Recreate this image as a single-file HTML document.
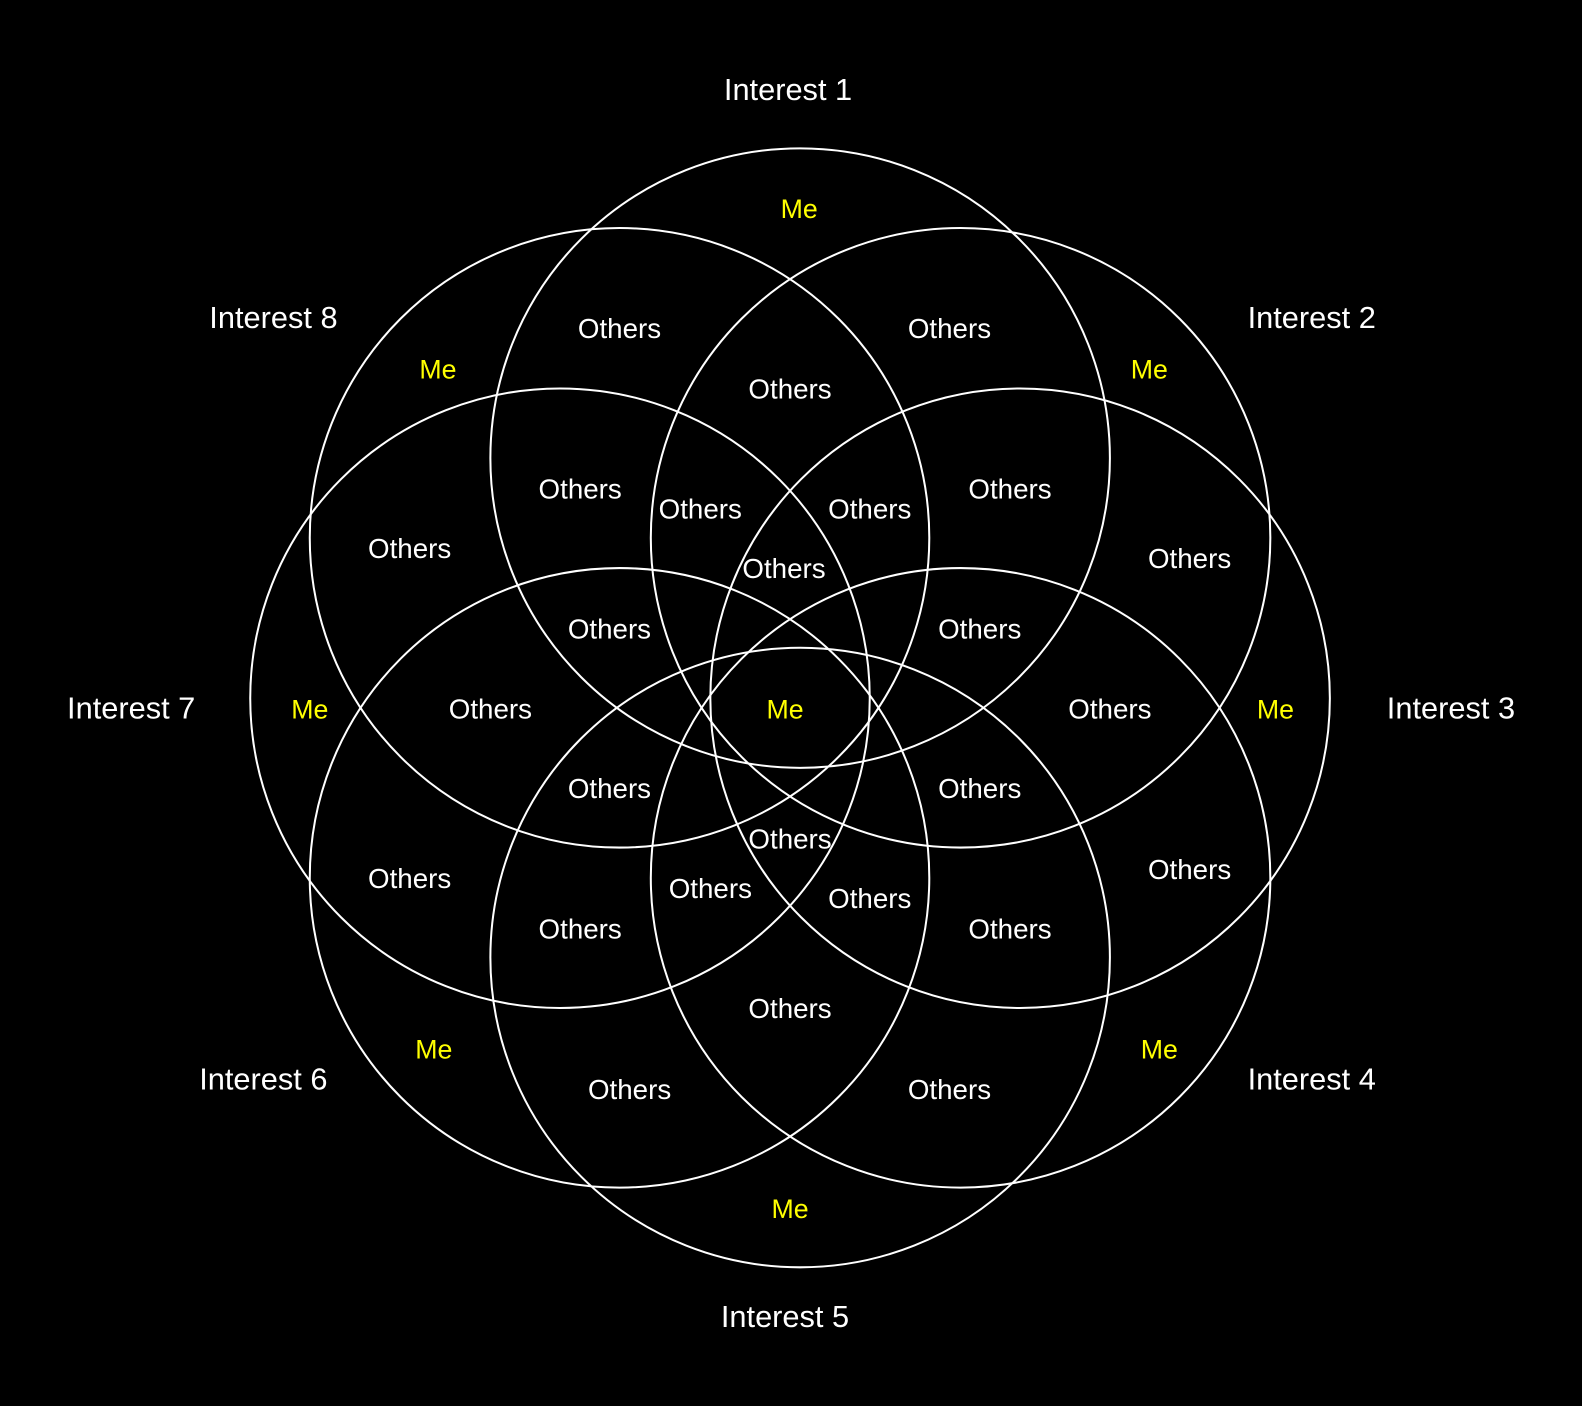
<!DOCTYPE html>
<html><head><meta charset="utf-8"><style>html,body{margin:0;padding:0;background:#000;}svg{display:block;}</style></head>
<body>
<svg width="1582" height="1406" viewBox="0 0 1582 1406" xmlns="http://www.w3.org/2000/svg">
<rect width="1582" height="1406" fill="#000"/>
<g transform="scale(1.009)">
<g fill="none" stroke="#fff" stroke-width="2">
<circle cx="793" cy="454" r="307"/>
<circle cx="952" cy="533" r="307"/>
<circle cx="1011" cy="692" r="307"/>
<circle cx="952" cy="870" r="307"/>
<circle cx="793" cy="949" r="307"/>
<circle cx="614" cy="870" r="307"/>
<circle cx="555" cy="692" r="307"/>
<circle cx="614" cy="533" r="307"/>
</g>
<g font-family="Liberation Sans, sans-serif" font-size="30.5" fill="#fff" text-anchor="middle">
<text x="781" y="99">Interest 1</text>
<text x="1300" y="325">Interest 2</text>
<text x="1438" y="712">Interest 3</text>
<text x="1300" y="1080">Interest 4</text>
<text x="778" y="1315">Interest 5</text>
<text x="261" y="1080">Interest 6</text>
<text x="130" y="712">Interest 7</text>
<text x="271" y="325">Interest 8</text>
</g>
<g font-family="Liberation Sans, sans-serif" font-size="27.5" fill="#fff" text-anchor="middle">
<text x="614" y="335">Others</text>
<text x="941" y="335">Others</text>
<text x="783" y="395">Others</text>
<text x="575" y="494">Others</text>
<text x="694" y="514">Others</text>
<text x="862" y="514">Others</text>
<text x="1001" y="494">Others</text>
<text x="406" y="553">Others</text>
<text x="1179" y="563">Others</text>
<text x="777" y="573">Others</text>
<text x="604" y="633">Others</text>
<text x="971" y="633">Others</text>
<text x="486" y="712">Others</text>
<text x="1100" y="712">Others</text>
<text x="604" y="791">Others</text>
<text x="971" y="791">Others</text>
<text x="783" y="841">Others</text>
<text x="406" y="880">Others</text>
<text x="1179" y="871">Others</text>
<text x="704" y="890">Others</text>
<text x="862" y="900">Others</text>
<text x="575" y="930">Others</text>
<text x="1001" y="930">Others</text>
<text x="783" y="1009">Others</text>
<text x="624" y="1089">Others</text>
<text x="941" y="1089">Others</text>
</g>
<g font-family="Liberation Sans, sans-serif" font-size="26.5" fill="#ffff00" text-anchor="middle">
<text x="792" y="216">Me</text>
<text x="434" y="375">Me</text>
<text x="1139" y="375">Me</text>
<text x="307" y="712">Me</text>
<text x="778" y="712">Me</text>
<text x="1264" y="712">Me</text>
<text x="430" y="1049">Me</text>
<text x="1149" y="1049">Me</text>
<text x="783" y="1207">Me</text>
</g>
</g>
</svg>
</body></html>
